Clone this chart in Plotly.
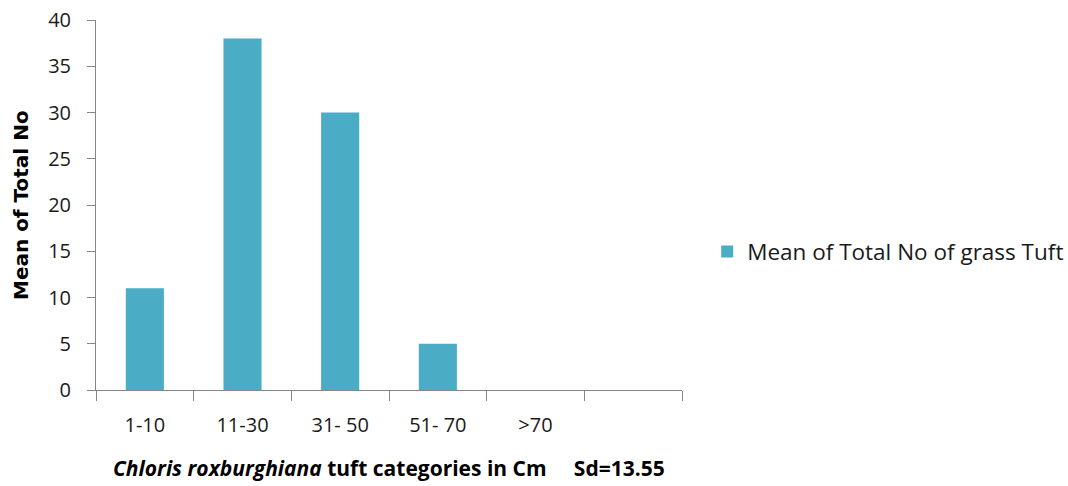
import plotly.graph_objects as go

categories = ["1-10", "11-30", "31- 50", "51- 70", ">70", " "]
values = [11, 38, 30, 5, 0, None]
series_name = "Mean of Total No of grass Tuft"
y_ticks = [0, 5, 10, 15, 20, 25, 30, 35, 40]

FONT = "Open Sans"
TXT = "#1a1a1a"
AX = "#868686"

fig = go.Figure()
fig.add_trace(go.Bar(
    x=categories, y=values, name=series_name,
    marker=dict(color="#4BACC6", line=dict(width=0)),
    showlegend=True,
))

fig.update_layout(
    width=1068, height=486,
    margin=dict(l=96, r=386, t=20, b=96, autoexpand=False),
    paper_bgcolor="white", plot_bgcolor="white",
    bargap=0.61,
    font=dict(family=FONT, color=TXT, size=20),
    legend=dict(x=1.043, xanchor="left", y=0.373, yanchor="middle",
                font=dict(size=22.5, family=FONT, color=TXT),
                itemwidth=30, bgcolor="rgba(0,0,0,0)"),
    xaxis=dict(
        type="category", tickson="boundaries", ticks="outside", ticklen=10,
        tickcolor=AX, tickwidth=1, showline=True, linecolor=AX, linewidth=1,
        showgrid=False, ticklabelstandoff=17, ticklabeloverflow="allow",
        automargin=False,
        tickfont=dict(size=20, family=FONT, color=TXT),
        range=[-0.5, 5.5],
    ),
    yaxis=dict(
        range=[0, 40], tickvals=y_ticks, ticks="outside", ticklen=8,
        tickcolor=AX, tickwidth=1, showline=True, linecolor=AX, linewidth=1,
        showgrid=False, zeroline=False, ticklabelstandoff=12,
        ticklabeloverflow="allow", automargin=False,
        tickfont=dict(size=20, family=FONT, color=TXT),
    ),
    annotations=[
        dict(text="<b>Mean of Total No</b>", xref="paper", yref="paper",
             x=-0.128, y=0.5, textangle=-90, showarrow=False,
             xanchor="center", yanchor="middle",
             font=dict(size=20, family="DejaVu Sans", color="#000000")),
        dict(text="<b><i>Chloris roxburghiana</i> tuft categories in Cm&nbsp;&nbsp;&nbsp;&nbsp;&nbsp;Sd=13.55</b>",
             xref="paper", yref="paper", x=0.5, y=-0.211, showarrow=False,
             xanchor="center", yanchor="middle",
             font=dict(size=21, family=FONT, color="#000000")),
    ],
)

fig.write_html("out.html",
               config={"displayModeBar": False},
               post_script="document.body.style.margin='0';document.body.style.overflow='hidden';")
